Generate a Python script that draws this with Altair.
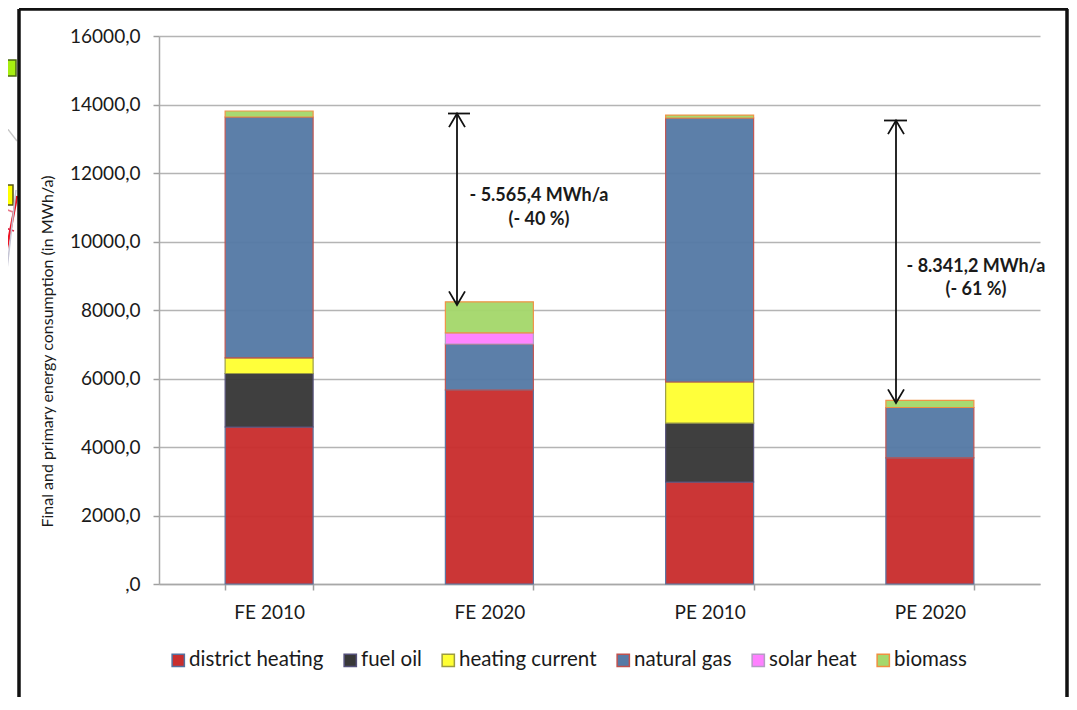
import altair as alt
import pandas as pd

FONT = "Lato"
categories = ["FE 2010", "FE 2020", "PE 2010", "PE 2020"]
series = ["district heating", "fuel oil", "heating current", "natural gas", "solar heat", "biomass"]
district_heating = [4584, 5664, 2978, 3680]
fuel_oil = [1562, 0, 1722, 0]
heating_current = [454, 0, 1198, 0]
natural_gas = [7035, 1343, 7708, 1473]
solar_heat = [0, 323, 0, 0]
biomass = [175, 910, 84, 207]
fills = ["#c92e2e", "#383838", "#ffff33", "#567aa6", "#ff80ff", "#a5d86c"]
strokes = ["#54709f", "#54507a", "#9c9c40", "#c0504d", "#b49cc4", "#f08f40"]
y_ticks = [0, 2000, 4000, 6000, 8000, 10000, 12000, 14000, 16000]

arrow_tops = [13737, 13533]
arrow_bottoms = [8146, 5285]
notes_1 = ["- 5.565,4 MWh/a", "(- 40 %)"]
notes_2 = ["- 8.341,2 MWh/a", "(- 61 %)"]
note_y_1 = [11320, 10640]
note_y_2 = [9260, 8580]

W, H = 881, 548
OX, OY = 159, 36


def px(v):
    return v - OX


def py(v):
    return v - OY


rows = []
for name, vals in zip(series, [district_heating, fuel_oil, heating_current, natural_gas, solar_heat, biomass]):
    for cat, val in zip(categories, vals):
        if val > 0:
            rows.append({"category": cat, "source": name, "value": val, "rank": series.index(name)})
df = pd.DataFrame(rows)
one = pd.DataFrame({"a": [0]})

y_scale = alt.Scale(domain=[0, 16000], nice=False)

legend_opts = dict(orient="none", legendX=px(168), legendY=py(650), direction="horizontal",
                   columns=6, title=None, symbolType="square", symbolSize=150,
                   symbolStrokeWidth=1.5, labelFont=FONT, labelFontSize=20.5,
                   labelColor="#1a1a1a", columnPadding=16, labelOffset=0.5, gridAlign="each",
                   symbolOpacity=1)

bars = alt.Chart(df).mark_bar(size=88, opacity=0.96, strokeWidth=1.2).encode(
    x=alt.X("category:N", sort=categories, scale=alt.Scale(paddingInner=0.6, paddingOuter=0.3),
            axis=alt.Axis(title=None, labelAngle=0, labelFont=FONT, labelFontSize=19, labelColor="#1a1a1a",
                          tickBand="extent", tickSize=6, tickColor="#a0a0a0", tickWidth=1.5,
                          domainColor="#a8a8a8", domainWidth=1.5, labelPadding=13, grid=False)),
    y=alt.Y("value:Q", stack="zero", scale=y_scale,
            axis=alt.Axis(values=y_ticks, title="Final and primary energy consumption (in MWh/a)",
                          labelExpr="datum.value == 0 ? ',0' : datum.value + ',0'",
                          labelFont=FONT, labelFontSize=19, labelColor="#1a1a1a", labelPadding=13,
                          tickSize=6, tickColor="#a0a0a0", tickWidth=1.5,
                          domainColor="#a8a8a8", domainWidth=1.5,
                          grid=True, gridColor="#b4b4b4", gridWidth=1.5,
                          titleFont=FONT, titleFontSize=16, titleFontWeight="normal", titleColor="#1a1a1a",
                          titleX=px(55), titleY=py(351), titleAlign="center")),
    color=alt.Color("source:N", scale=alt.Scale(domain=series, range=fills), legend=alt.Legend(**legend_opts)),
    stroke=alt.Stroke("source:N", scale=alt.Scale(domain=series, range=strokes), legend=alt.Legend(**legend_opts)),
    order=alt.Order("rank:Q"),
)

layers = [bars]


def arrow(x, cap_l, cap_r, top, bottom):
    base = alt.Chart(one)
    shaft = base.mark_rule(color="#111111", strokeWidth=1.8).encode(
        x=alt.value(px(x)), y=alt.datum(top, scale=y_scale), y2=alt.datum(bottom))
    cap = base.mark_rule(color="#111111", strokeWidth=1.8).encode(
        x=alt.value(px(cap_l)), x2=alt.value(px(cap_r)), y=alt.datum(top, scale=y_scale))
    up = base.mark_point(shape="M-1,1.7L0,0L1,1.7", filled=False, size=256, color="#111111", strokeWidth=1.8,
                         opacity=1).encode(x=alt.value(px(x)), y=alt.datum(top, scale=y_scale))
    down = base.mark_point(shape="M-1,-1.7L0,0L1,-1.7", filled=False, size=256, color="#111111", strokeWidth=1.8,
                           opacity=1).encode(x=alt.value(px(x)), y=alt.datum(bottom, scale=y_scale))
    return [shaft, cap, up, down]


def note(x, text, y_val):
    return alt.Chart(one).mark_text(text=text, font=FONT, fontSize=18, fontWeight="bold", color="#1a1a1a",
                                    align="center", baseline="middle").encode(
        x=alt.value(px(x)), y=alt.datum(y_val, scale=y_scale))


layers += arrow(457, 448, 470, arrow_tops[0], arrow_bottoms[0])
layers += arrow(896, 884, 907, arrow_tops[1], arrow_bottoms[1])
for t, v in zip(notes_1, note_y_1):
    layers.append(note(539, t, v))
for t, v in zip(notes_2, note_y_2):
    layers.append(note(976, t, v))


def seg(x1, y1, x2, y2, color, width):
    return alt.Chart(one).mark_rule(color=color, strokeWidth=width).encode(
        x=alt.value(px(x1)), x2=alt.value(px(x2)), y=alt.value(py(y1)), y2=alt.value(py(y2)))


def box(x1, y1, x2, y2, fill, stroke):
    return alt.Chart(one).mark_rect(fill=fill, stroke=stroke, strokeWidth=1.5).encode(
        x=alt.value(px(x1)), x2=alt.value(px(x2)), y=alt.value(py(y1)), y2=alt.value(py(y2)))


# map fragments showing behind the chart's frame
layers += [
    box(-6, 60, 16, 76, "#a6ee10", "#4c6a10"),
    box(-6, 185, 13, 205, "#ffff00", "#55551a"),
    seg(0, 119, 17, 141, "#c8c8c8", 1.5),
    seg(17, 196, 0, 284, "#ee1122", 2.5),
    seg(0, 207, 13, 212, "#e87a8a", 1.5),
    seg(0, 226, 14, 231, "#dd2244", 1.5),
    seg(16, 190, 1, 322, "#c4c4d4", 1.5),
    # black frame
    seg(19, 9, 19, 712, "#111111", 3.5),
    seg(19, 9, 1068, 9, "#111111", 3.5),
    seg(1067, 9, 1067, 712, "#111111", 3.5),
]

chart = alt.layer(*layers).resolve_legend(color="shared", stroke="shared").properties(
    width=W, height=H,
    padding={"left": OX - 8, "top": OY - 8, "right": 29, "bottom": 113},
    autosize=alt.AutoSizeParams(type="none"),
    background="white",
).configure_view(stroke=None)

chart.save("out.html", embed_options={"renderer": "svg", "actions": False})
